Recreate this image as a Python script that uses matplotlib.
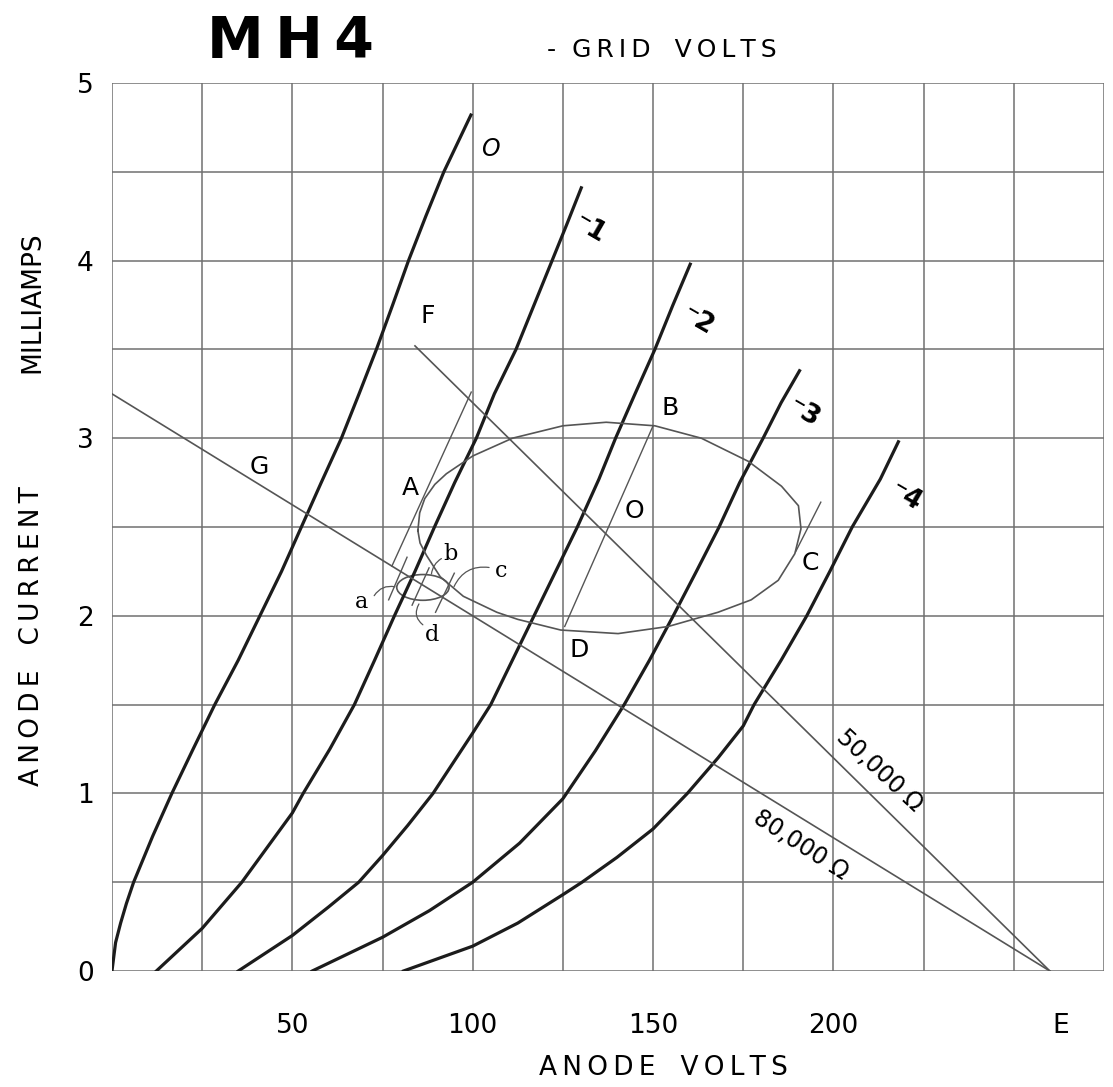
import matplotlib
matplotlib.use("Agg")
import matplotlib.pyplot as plt
from matplotlib.patches import Ellipse

# anode characteristics, one list pair per grid voltage (V, mA)
grid_0_v = [0, 1, 2.4, 4, 6, 11.3, 16.6, 22.5, 28.5, 35, 41, 47, 52.5, 58, 63.6, 68.5, 73.3, 77.8, 82.2, 87, 92, 99.5]
grid_0_i = [0, 0.16, 0.27, 0.38, 0.5, 0.76, 1.0, 1.25, 1.5, 1.75, 2.0, 2.25, 2.5, 2.75, 3.0, 3.25, 3.5, 3.75, 4.0, 4.25, 4.5, 4.82]

grid_1_v = [12.3, 25, 36, 50, 53, 60.4, 67.2, 72.8, 78.3, 84, 89.4, 95, 101, 106, 112, 117, 122, 126, 130.1]
grid_1_i = [0, 0.24, 0.5, 0.89, 1.0, 1.25, 1.5, 1.75, 2.0, 2.25, 2.5, 2.75, 3.0, 3.25, 3.5, 3.75, 4.0, 4.2, 4.41]

grid_2_v = [35, 50, 60, 68.4, 75, 82, 89, 100, 105, 111, 117, 123, 129, 135, 139.6, 145, 150.5, 155.5, 160.3]
grid_2_i = [0, 0.2, 0.36, 0.5, 0.65, 0.82, 1.0, 1.34, 1.5, 1.75, 2.0, 2.25, 2.5, 2.77, 3.0, 3.25, 3.5, 3.75, 3.98]

grid_3_v = [55.5, 75, 88, 100, 113, 125, 134, 142, 149, 155.6, 162, 168.3, 174, 180.5, 185.5, 190.6]
grid_3_i = [0, 0.19, 0.34, 0.5, 0.72, 0.97, 1.24, 1.5, 1.75, 2.0, 2.25, 2.5, 2.75, 3.0, 3.2, 3.38]

grid_4_v = [80.8, 100, 112.5, 125, 130.3, 140, 150, 159.5, 168, 175, 178, 185.5, 192.6, 199, 205.2, 213, 218]
grid_4_i = [0, 0.14, 0.27, 0.43, 0.5, 0.64, 0.8, 1.0, 1.2, 1.38, 1.5, 1.75, 2.0, 2.25, 2.5, 2.77, 2.98]

curves = [(grid_0_v, grid_0_i), (grid_1_v, grid_1_i), (grid_2_v, grid_2_i),
          (grid_3_v, grid_3_i), (grid_4_v, grid_4_i)]

# load lines
load_80k_v = [0, 260]
load_80k_i = [3.25, 0]
load_50k_v = [84, 260]
load_50k_i = [3.52, 0]

# working ellipse ABCD
ellipse_v = [84.8, 85.3, 86.7, 89.5, 92.7, 100, 111, 125, 137, 150.5, 163.4, 176.4, 185.6, 190.3, 191, 189.3,
             184.7, 177.2, 168, 154.2, 140.3, 124.4, 112.5, 106.7, 97.4, 91, 87.2, 85.4, 84.8]
ellipse_i = [2.48, 2.58, 2.66, 2.74, 2.80, 2.90, 3.0, 3.07, 3.09, 3.07, 3.0, 2.87, 2.73, 2.62, 2.49, 2.35,
             2.2, 2.09, 2.02, 1.94, 1.90, 1.92, 1.98, 2.02, 2.11, 2.22, 2.34, 2.41, 2.48]

# thin construction lines
line_a_v = [77.6, 99.6]
line_a_i = [2.28, 3.26]
line_db_v = [125.5, 150]
line_db_i = [1.94, 3.07]
line_c_v = [189.5, 196.5]
line_c_i = [2.36, 2.64]

# small ellipse abcd (centre, width, height)
small_centre = (86.2, 2.16)
small_w = 14.5
small_h = 0.145
hatch_v = [(76.7, 81.8), (83.2, 87.9), (89.7, 94.9)]
hatch_i = [(2.09, 2.33), (2.06, 2.27), (2.02, 2.24)]

x_ticks = [50, 100, 150, 200, 263]
x_tick_labels = ['50', '100', '150', '200', 'E']
y_ticks = [0, 1, 2, 3, 4, 5]
y_tick_labels = ['0', '1', '2', '3', '4', '5']

grid_col = '#707070'
curve_col = '#1c1c1c'
thin_col = '#555555'


def spaced(s):
    # drafting style lettering, a thin space between letters
    return '\u2009'.join(s)


fig = plt.figure(figsize=(11.13, 10.87), dpi=100)
ax = fig.add_axes([0.1006, 0.1067, 0.8913, 0.8169])
ax.set_xlim(0, 275)
ax.set_ylim(0, 5)

for gx in range(0, 276, 25):
    ax.axvline(gx, color=grid_col, linewidth=1.1, zorder=0)
for k in range(11):
    ax.axhline(k * 0.5, color=grid_col, linewidth=1.1, zorder=0)

ax.set_xticks(x_ticks)
ax.set_xticklabels(x_tick_labels)
ax.set_yticks(y_ticks)
ax.set_yticklabels(y_tick_labels)
ax.tick_params(length=0)
ax.tick_params(axis='x', pad=30, labelsize=19)
ax.tick_params(axis='y', pad=13, labelsize=19)
for s in ax.spines.values():
    s.set_visible(False)

for v, i in curves:
    ax.plot(v, i, color=curve_col, linewidth=2.3)

ax.plot(load_80k_v, load_80k_i, color=thin_col, linewidth=1.2)
ax.plot(load_50k_v, load_50k_i, color=thin_col, linewidth=1.2)
ax.plot(ellipse_v, ellipse_i, color=thin_col, linewidth=1.2)
ax.plot(line_a_v, line_a_i, color=thin_col, linewidth=1.0)
ax.plot(line_db_v, line_db_i, color=thin_col, linewidth=1.0)
ax.plot(line_c_v, line_c_i, color=thin_col, linewidth=1.0)
ax.add_patch(Ellipse(small_centre, small_w, small_h, fill=False, edgecolor=thin_col, linewidth=1.2))
for hv, hi in zip(hatch_v, hatch_i):
    ax.plot(hv, hi, color=thin_col, linewidth=1.0)

# curve labels
ax.text(105, 4.63, 'O', fontsize=17, style='italic', ha='center', va='center')
for x, y, t in [(132.5, 4.18, '⁻1'), (162.5, 3.66, '⁻2'), (191.7, 3.14, '⁻3'), (220, 2.67, '⁻4')]:
    ax.text(x, y, t, fontsize=19, fontweight='bold', rotation=-30, ha='center', va='center')

# point labels
for x, y, t in [(87.5, 3.69, 'F'), (40.8, 2.84, 'G'), (82.8, 2.72, 'A'), (154.7, 3.17, 'B'),
                (144.8, 2.59, 'O'), (193.5, 2.30, 'C'), (129.6, 1.81, 'D')]:
    ax.text(x, y, t, fontsize=18, ha='center', va='center')
for x, y, t in [(69.2, 2.08, 'a'), (93.8, 2.35, 'b'), (107.8, 2.25, 'c'), (88.8, 1.89, 'd')]:
    ax.text(x, y, t, fontsize=16, family='DejaVu Serif', ha='center', va='center')

# leaders to the small ellipse
leader_kw = dict(arrowstyle='-', color=thin_col, linewidth=0.9)
ax.annotate('', xy=(79.2, 2.16), xytext=(72.3, 2.10),
            arrowprops=dict(connectionstyle='arc3,rad=-0.4', **leader_kw))
ax.annotate('', xy=(88.5, 2.22), xytext=(92.0, 2.33),
            arrowprops=dict(connectionstyle='arc3,rad=0.3', **leader_kw))
ax.annotate('', xy=(94.5, 2.15), xytext=(105.3, 2.27),
            arrowprops=dict(connectionstyle='arc3,rad=0.4', **leader_kw))
ax.annotate('', xy=(85.5, 2.08), xytext=(86.8, 1.94),
            arrowprops=dict(connectionstyle='arc3,rad=-0.5', **leader_kw))

ax.text(212.6, 1.13, '50,000 Ω', fontsize=17, rotation=-43, ha='center', va='center')
ax.text(190.8, 0.71, '80,000 Ω', fontsize=17, rotation=-33, ha='center', va='center')

fig.text(290 / 1113, 1 - 42 / 1087, spaced('MH4'), fontsize=41, fontweight='bold', ha='center', va='center')
fig.text(662 / 1113, 1 - 50 / 1087, '-  ' + spaced('GRID') + '   ' + spaced('VOLTS'),
         fontsize=18, ha='center', va='center')
fig.text(663 / 1113, 1 - 1068 / 1087, spaced('ANODE') + '   ' + spaced('VOLTS'),
         fontsize=19, ha='center', va='center')
fig.text(32 / 1113, 1 - 636 / 1087, spaced('ANODE') + '   ' + spaced('CURRENT'),
         fontsize=19, rotation=90, ha='center', va='center')
fig.text(32 / 1113, 1 - 302 / 1087, 'MILLIAMPS', fontsize=19, rotation=90, ha='center', va='center')

fig.savefig('out.png', dpi=100, facecolor='white')
